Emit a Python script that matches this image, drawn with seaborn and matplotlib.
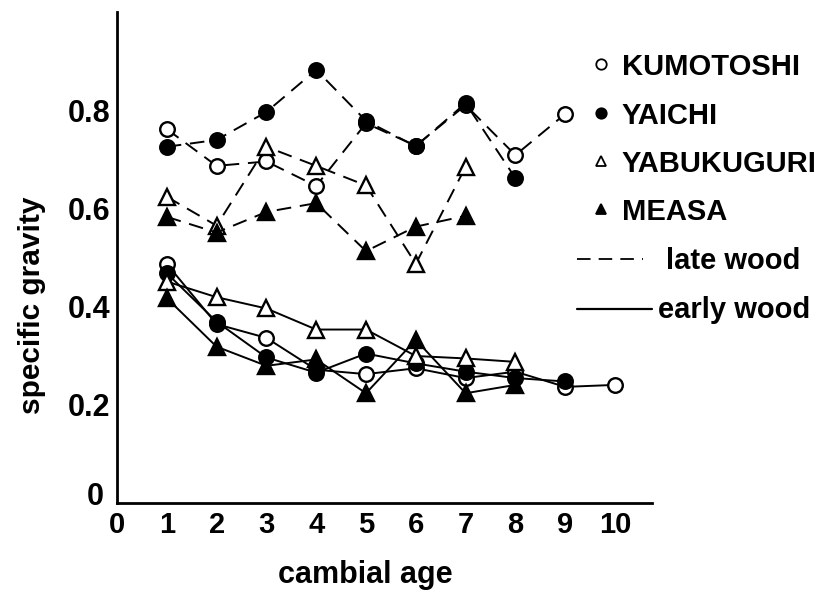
import matplotlib
matplotlib.use("Agg")
import matplotlib.pyplot as plt
import seaborn as sns
import pandas as pd
from matplotlib.lines import Line2D

# ---------------- data ----------------
species = ["KUMOTOSHI", "YAICHI", "YABUKUGURI", "MEASA"]

kumotoshi_late = [0.763, 0.688, 0.697, 0.647, 0.775, 0.729, 0.812, 0.710, 0.794]
yaichi_late = [0.727, 0.741, 0.798, 0.884, 0.780, 0.728, 0.816, 0.663]
yabukuguri_late = [0.625, 0.566, 0.727, 0.688, 0.648, 0.488, 0.686]
measa_late = [0.584, 0.552, 0.594, 0.612, 0.514, 0.564, 0.586]

kumotoshi_early = [0.488, 0.365, 0.337, 0.272, 0.263, 0.275, 0.255, 0.268, 0.237, 0.241]
yaichi_early = [0.469, 0.370, 0.297, 0.266, 0.305, 0.285, 0.268, 0.255, 0.248]
yabukuguri_early = [0.452, 0.420, 0.397, 0.354, 0.354, 0.300, 0.295, 0.288]
measa_early = [0.418, 0.319, 0.280, 0.293, 0.224, 0.333, 0.224, 0.241]

x_ticks = [0, 1, 2, 3, 4, 5, 6, 7, 8, 9, 10]
y_ticks = [0.1, 0.2, 0.3, 0.4, 0.5, 0.6, 0.7, 0.8, 0.9]
y_labels = ["", "0.2", "", "0.4", "", "0.6", "", "0.8", ""]
wood_labels = ["late wood", "early wood"]

late_series = [kumotoshi_late, yaichi_late, yabukuguri_late, measa_late]
early_series = [kumotoshi_early, yaichi_early, yabukuguri_early, measa_early]

rows = []
for sp, vals in zip(species, late_series):
    for i, v in enumerate(vals):
        rows.append(dict(species=sp, wood="late wood", age=i + 1, sg=v))
for sp, vals in zip(species, early_series):
    for i, v in enumerate(vals):
        rows.append(dict(species=sp, wood="early wood", age=i + 1, sg=v))
df = pd.DataFrame(rows)

# ---------------- style ----------------
sns.set_style("white")
plt.rcParams["font.family"] = ["Liberation Sans", "DejaVu Sans"]
plt.rcParams["font.weight"] = "bold"
plt.rcParams["text.color"] = "black"
plt.rcParams["axes.labelcolor"] = "black"
plt.rcParams["xtick.color"] = "black"
plt.rcParams["ytick.color"] = "black"

W, H = 833, 591
fig = plt.figure(figsize=(W / 100, H / 100), dpi=100)
x0, x1, ytop, ybot = 117, 652, 12, 503
ax = fig.add_axes([x0 / W, (H - ybot) / H, (x1 - x0) / W, (ybot - ytop) / H])

marker_style = {
    "KUMOTOSHI": dict(marker="o", mfc="white"),
    "YAICHI": dict(marker="o", mfc="black"),
    "YABUKUGURI": dict(marker="^", mfc="white"),
    "MEASA": dict(marker="^", mfc="black"),
}
dash = (0, (7.5, 4.5))

for wood, ls in [("late wood", dash), ("early wood", "-")]:
    for sp in species:
        d = df[(df.species == sp) & (df.wood == wood)]
        st = marker_style[sp]
        ms = 10.5 if st["marker"] == "o" else 11.5
        sns.lineplot(data=d, x="age", y="sg", ax=ax, color="black",
                     linewidth=1.4, linestyle=ls, marker=st["marker"],
                     markersize=ms, markerfacecolor=st["mfc"],
                     markeredgecolor="black", markeredgewidth=1.7,
                     legend=False, sort=False, zorder=3)

ax.set_xlim(0, (x1 - x0) / 49.8)
ax.set_ylim(0, (ybot - ytop) / 490)
ax.set_xticks(x_ticks)
ax.set_xticklabels([str(t) for t in x_ticks])
ax.set_yticks(y_ticks)
ax.set_yticklabels(y_labels)
for s in ["top", "right"]:
    ax.spines[s].set_visible(False)
for s in ["left", "bottom"]:
    ax.spines[s].set_color("black")
    ax.spines[s].set_linewidth(2.0)
ax.tick_params(axis="both", direction="in", length=7, width=1.6,
               colors="black", labelcolor="black", labelsize=22, pad=5)
ax.tick_params(axis="x", pad=6, labelsize=21)
for lab in ax.get_xticklabels() + ax.get_yticklabels():
    lab.set_fontweight("bold")
ax.set_xlabel("")
ax.set_ylabel("")
ax.grid(False)

# y "0" label
fig.text(95 / W, 1 - 497 / H, "0", fontsize=22, fontweight="bold",
         ha="center", va="center", color="black")

fig.text(365 / W, 1 - 575 / H, "cambial age", fontsize=22,
         fontweight="bold", ha="center", va="center", color="black")
fig.text(32 / W, 1 - 305 / H, "specific gravity", fontsize=21.5,
         fontweight="bold", ha="center", va="center", rotation=90,
         color="black")

# ---------------- legend ----------------
row_y = [64, 113, 161, 209]
for sp, yy in zip(species, row_y):
    st = marker_style[sp]
    fig.add_artist(Line2D([601 / W], [1 - yy / H], transform=fig.transFigure,
                          marker=st["marker"], markersize=7.5,
                          markerfacecolor=st["mfc"], markeredgecolor="black",
                          markeredgewidth=1.3, linestyle="none"))
    fig.text(622 / W, 1 - yy / H, sp, fontsize=21, fontweight="bold",
             ha="left", va="center_baseline", color="black")

fig.add_artist(Line2D([577 / W, 643 / W], [1 - 259 / H, 1 - 259 / H],
                      transform=fig.transFigure, color="black",
                      linewidth=1.3, linestyle=dash))
fig.text(666 / W, 1 - 258 / H, wood_labels[0], fontsize=21,
         fontweight="bold", ha="left", va="center_baseline", color="black")
fig.add_artist(Line2D([577 / W, 652 / W], [1 - 309 / H, 1 - 309 / H],
                      transform=fig.transFigure, color="black",
                      linewidth=1.6, linestyle="-"))
fig.text(658 / W, 1 - 307 / H, wood_labels[1], fontsize=21,
         fontweight="bold", ha="left", va="center_baseline", color="black")

fig.savefig("out.png", dpi=100)
